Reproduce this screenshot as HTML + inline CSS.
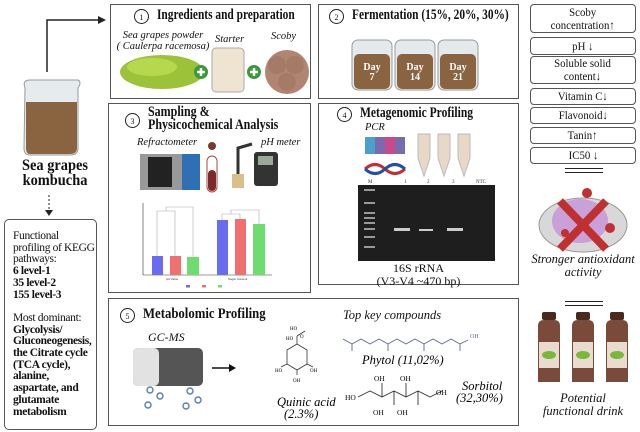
<!DOCTYPE html>
<html><head><meta charset="utf-8"><style>
body{margin:0;width:640px;height:432px;background:#fff;position:relative;overflow:hidden;font-family:"Liberation Serif",serif;color:#111}
.a{position:absolute}
.box{position:absolute;border:1.5px solid #555;box-sizing:border-box;background:#fff}
.rb{position:absolute;left:530px;width:106px;border:1.3px solid #555;border-radius:4px;box-sizing:border-box;text-align:center;font-size:12px;line-height:13px;display:flex;align-items:center;justify-content:center;white-space:nowrap}
.rb span{display:inline-block;transform:scaleX(.9)}
.t{font-weight:bold;font-size:15px;white-space:nowrap;transform-origin:left center}
.num{position:absolute;width:15px;height:15px;border:1.3px solid #222;border-radius:50%;font-size:8px;text-align:center;line-height:15px;box-sizing:border-box}
i{font-style:italic}
.dl{position:absolute;left:565px;width:38px;height:3px;border-top:1.5px solid #222;border-bottom:1.5px solid #222}
</style></head><body>

<!-- left column -->
<svg class="a" style="left:0;top:0" width="110" height="220">
<path d="M47 72 V20 H98" stroke="#222" stroke-width="1.5" fill="none"/>
<polygon points="98,16 106,20 98,24" fill="#222"/>
<path d="M25 88 Q22 80 30 80 H78 Q82 82 78 88 V148 Q78 155 70 155 H30 Q24 155 24 148 Z" fill="#e6ecee" stroke="#999"/>
<path d="M26 102 H77 V148 Q77 154 70 154 H30 Q26 154 26 148 Z" fill="#8a6340"/>
<line x1="49" y1="195" x2="49" y2="212" stroke="#222" stroke-dasharray="2,2"/>
<polygon points="45,210 49,216 53,210" fill="#222"/>
</svg>
<div class="a" style="left:0;width:110px;top:158px;text-align:center;font-size:16px;line-height:15px;font-weight:bold;transform:scaleX(.9);transform-origin:55px 0">Sea grapes<br>kombucha</div>
<div class="box" style="left:4px;top:219px;width:93px;height:211px;border-radius:5px;padding:11px 0 0 8px;font-size:11.5px;line-height:11.7px;letter-spacing:-0.35px">Functional profiling of KEGG pathways:<br><b>6 level-1<br>35 level-2<br>155 level-3</b><br><br>Most dominant:<br><b>Glycolysis/ Gluconeogenesis, the Citrate cycle (TCA cycle), alanine, aspartate, and glutamate metabolism</b></div>

<!-- box1 -->
<div class="box" style="left:110px;top:4px;width:201px;height:95px"></div>
<div class="num" style="left:134px;top:9px">1</div>
<div class="a t" style="left:157px;top:7px;transform:scaleX(.76)">Ingredients and preparation</div>
<div class="a" style="left:113px;top:30px;font-size:10.5px;line-height:11px;text-align:center;width:100px"><i>Sea grapes powder<br>( Caulerpa racemosa)</i></div>
<div class="a" style="left:215px;top:34px;font-size:10.5px"><i>Starter</i></div>
<div class="a" style="left:271px;top:31px;font-size:10.5px"><i>Scoby</i></div>
<svg class="a" style="left:112px;top:45px" width="198" height="50">
<ellipse cx="50" cy="27" rx="42" ry="17" fill="#9cc23a"/>
<ellipse cx="40" cy="22" rx="25" ry="9" fill="#b6d84e"/>
<circle cx="89" cy="27" r="7" fill="#3a9a3a"/><path d="M85 27h8M89 23v8" stroke="#fff" stroke-width="2.5"/>
<rect x="100" y="3" width="32" height="44" rx="4" fill="#efe3d2" stroke="#aaa"/>
<circle cx="142" cy="27" r="7" fill="#3a9a3a"/><path d="M138 27h8M142 23v8" stroke="#fff" stroke-width="2.5"/>
<circle cx="175" cy="27" r="22" fill="#b08672"/><circle cx="165" cy="20" r="9" fill="#a57b66"/><circle cx="183" cy="20" r="9" fill="#a57b66"/><circle cx="175" cy="37" r="9" fill="#a57b66"/>
</svg>

<!-- box2 -->
<div class="box" style="left:318px;top:4px;width:201px;height:95px"></div>
<div class="num" style="left:329px;top:9px">2</div>
<div class="a t" style="left:352px;top:7px;transform:scaleX(.76)">Fermentation (15%, 20%, 30%)</div>
<svg class="a" style="left:350px;top:38px" width="160" height="55">
<g><rect x="2" y="2" width="40" height="50" rx="6" fill="#e4eaec" stroke="#999"/><rect x="4" y="16" width="36" height="35" rx="5" fill="#8a6340"/></g>
<g transform="translate(43,0)"><rect x="2" y="2" width="40" height="50" rx="6" fill="#e4eaec" stroke="#999"/><rect x="4" y="16" width="36" height="35" rx="5" fill="#8a6340"/></g>
<g transform="translate(86,0)"><rect x="2" y="2" width="40" height="50" rx="6" fill="#e4eaec" stroke="#999"/><rect x="4" y="16" width="36" height="35" rx="5" fill="#8a6340"/></g>
<g fill="#fff" font-family="Liberation Serif" font-weight="bold" font-size="10" text-anchor="middle"><text x="22" y="32">Day</text><text x="22" y="42">7</text><text x="65" y="32">Day</text><text x="65" y="42">14</text><text x="108" y="32">Day</text><text x="108" y="42">21</text></g>
</svg>

<!-- box3 -->
<div class="box" style="left:108px;top:103px;width:203px;height:190px"></div>
<div class="num" style="left:125px;top:113px">3</div>
<div class="a t" style="left:148px;top:106px;line-height:13px;transform:scaleX(.8)">Sampling &amp;<br>Physicochemical Analysis</div>
<div class="a" style="left:137px;top:137px;font-size:10.5px"><i>Refractometer</i></div>
<div class="a" style="left:261px;top:137px;font-size:10.5px"><i>pH meter</i></div>
<svg class="a" style="left:0;top:0" width="320" height="300">
<rect x="140" y="154" width="60" height="36" fill="#999"/><rect x="148" y="157" width="24" height="30" fill="#222"/><rect x="182" y="154" width="18" height="36" fill="#2f6fb4"/>
<circle cx="212" cy="146" r="4" fill="#7a3a2a"/><rect x="207" y="156" width="10" height="36" rx="5" fill="#fff" stroke="#a44"/><rect x="208" y="170" width="8" height="21" rx="4" fill="#7a2a2a"/>
<path d="M238 180 V148 L252 144" stroke="#333" stroke-width="3" fill="none"/><rect x="254" y="152" width="24" height="34" rx="3" fill="#333"/><rect x="258" y="156" width="15" height="9" fill="#9a9"/><rect x="232" y="174" width="12" height="14" fill="#d9c08a"/>
<line x1="143" y1="203" x2="143" y2="275" stroke="#333" stroke-width=".6"/><line x1="143" y1="275" x2="272" y2="275" stroke="#333" stroke-width=".6"/>
<rect x="152" y="256" width="11" height="19" fill="#6b6bf0"/><rect x="170" y="256" width="11" height="19" fill="#f07070"/><rect x="187" y="257" width="12" height="18" fill="#6fdc6f"/>
<rect x="217" y="220" width="11" height="55" fill="#6b6bf0"/><rect x="235" y="219" width="11" height="56" fill="#f07070"/><rect x="253" y="224" width="12" height="51" fill="#6fdc6f"/>
<path d="M157 256V211H175V256M166 211V207H193V257M222 220V214H240V219M231 214V210H259V224" stroke="#aaa" stroke-width=".6" fill="none"/>
<g font-size="3" font-family="Liberation Sans" fill="#333"><text x="166" y="280">pH Value</text><text x="228" y="280">Sugar Content</text></g>
<rect x="186" y="285" width="4" height="2.5" fill="#6b6bf0"/><rect x="202" y="285" width="4" height="2.5" fill="#f07070"/><rect x="218" y="285" width="4" height="2.5" fill="#6fdc6f"/>
</svg>

<!-- box4 -->
<div class="box" style="left:318px;top:103px;width:201px;height:182px"></div>
<div class="num" style="left:337px;top:107px">4</div>
<div class="a t" style="left:360px;top:105px;transform:scaleX(.77)">Metagenomic Profiling</div>
<div class="a" style="left:365px;top:122px;font-size:10.5px"><i>PCR</i></div>
<svg class="a" style="left:0;top:0" width="520" height="290">
<rect x="365" y="137" width="40" height="17" fill="#7a6ab0"/><rect x="365" y="137" width="10" height="17" fill="#4aa0c8"/><rect x="385" y="137" width="10" height="17" fill="#c84a8a"/>
<path d="M365 169 Q375 160 385 169 T405 169" stroke="#c03030" stroke-width="3" fill="none"/><path d="M365 169 Q375 178 385 169 T405 169" stroke="#2050a0" stroke-width="3" fill="none"/>
<path d="M418 134h12v24l-6 18l-6-18z" fill="#e8d8c8" stroke="#bbb"/><path d="M438 134h12v24l-6 18l-6-18z" fill="#e8d8c8" stroke="#bbb"/><path d="M458 134h12v24l-6 18l-6-18z" fill="#e8d8c8" stroke="#bbb"/>
<rect x="358" y="185" width="137" height="76" fill="#1e1e1e"/>
<g fill="#999"><rect x="364" y="189" width="11" height="2"/><rect x="364" y="202" width="11" height="2"/><rect x="364" y="212" width="11" height="2"/><rect x="364" y="217" width="11" height="2"/><rect x="364" y="222" width="11" height="2"/><rect x="364" y="228" width="11" height="2"/><rect x="364" y="236" width="11" height="2"/><rect x="364" y="246" width="11" height="2"/></g>
<g fill="#ccc"><rect x="394" y="228" width="16" height="3"/><rect x="419" y="229" width="14" height="2"/><rect x="447" y="228" width="16" height="3"/></g>
<g font-size="5" font-family="Liberation Serif" fill="#333"><text x="368" y="183">M</text><text x="404" y="183">1</text><text x="427" y="183">2</text><text x="452" y="183">3</text><text x="476" y="183">NTC</text></g>
</svg>
<div class="a" style="left:318px;width:201px;top:262px;text-align:center;font-size:12px;line-height:13px">16S rRNA<br>(V3-V4 ~470 bp)</div>

<!-- box5 -->
<div class="box" style="left:108px;top:298px;width:411px;height:128px"></div>
<div class="num" style="left:120px;top:308px">5</div>
<div class="a t" style="left:143px;top:306px;transform:scaleX(.85)">Metabolomic Profiling</div>
<div class="a" style="left:148px;top:330px;font-size:12px"><i>GC-MS</i></div>
<div class="a" style="left:343px;top:308px;font-size:12.5px"><i>Top key compounds</i></div>
<svg class="a" style="left:0;top:0" width="520" height="432">
<rect x="133" y="348" width="70" height="38" rx="5" fill="#555"/><rect x="133" y="348" width="26" height="38" rx="5" fill="#e2e2e2"/>
<g stroke="#5a7fa8" fill="none" stroke-width="1.4"><circle cx="150" cy="390" r="3"/><circle cx="160" cy="396" r="3"/><circle cx="148" cy="405" r="3"/><circle cx="190" cy="391" r="3"/><circle cx="198" cy="400" r="3"/><circle cx="186" cy="406" r="3"/></g>
<path d="M212 368H229" stroke="#111" stroke-width="1.5"/><polygon points="229,364 236,368 229,372" fill="#111"/>
<g stroke="#333" stroke-width=".8" fill="none"><path d="M297 336V344L307 350V364L297 370L287 364V350L297 344M297 336l8-5M287 364l-6 3M307 364l6 3M297 370v5"/></g>
<g font-size="5" font-family="Liberation Serif"><text x="290" y="330">HO</text><text x="300" y="338">O</text><text x="286" y="340">HO</text><text x="275" y="372">HO</text><text x="310" y="372">OH</text><text x="293" y="382">OH</text></g>
<text x="277" y="406" font-size="12.5" font-style="italic" font-family="Liberation Serif">Quinic acid</text>
<text x="284" y="418" font-size="12.5" font-style="italic" font-family="Liberation Serif">(2.3%)</text>
<g stroke="#5a6a88" stroke-width=".9" fill="none"><path d="M343 339l9 5l9-5l9 5l9-5l9 5l9-5l9 5l9-5l9 5l9-5l9 5l9-5l9 5l8-4M352 344v7M388 344v7M424 344v7M460 344v7"/></g>
<text x="470" y="338" font-size="6" font-family="Liberation Serif" fill="#5a6a88">OH</text>
<text x="362" y="364" font-size="12.5" font-style="italic" font-family="Liberation Serif">Phytol (11,02%)</text>
<g stroke="#333" stroke-width=".9" fill="none"><path d="M358 397l12-6l12 6l12-6l12 6l12-6l12 6l12-6M382 397v-14M394 391v14M406 397v-14M418 391v14"/></g>
<g font-size="7.5" font-family="Liberation Serif"><text x="345" y="400">HO</text><text x="374" y="381">OH</text><text x="400" y="381">OH</text><text x="436" y="395">OH</text><text x="373" y="415">OH</text><text x="397" y="415">OH</text></g>
<text x="462" y="390" font-size="12.5" font-style="italic" font-family="Liberation Serif">Sorbitol</text>
<text x="456" y="402" font-size="12.5" font-style="italic" font-family="Liberation Serif">(32,30%)</text>
</svg>

<!-- right column -->
<div class="rb" style="top:4px;height:29px"><span>Scoby<br>concentration↑</span></div>
<div class="rb" style="top:37px;height:18px"><span>pH ↓</span></div>
<div class="rb" style="top:56px;height:28px"><span>Soluble solid<br>content↓</span></div>
<div class="rb" style="top:88px;height:17px"><span>Vitamin C↓</span></div>
<div class="rb" style="top:107px;height:17px"><span>Flavonoid↓</span></div>
<div class="rb" style="top:127px;height:17px"><span>Tanin↑</span></div>
<div class="rb" style="top:147px;height:17px"><span>IC50 ↓</span></div>
<div class="dl" style="top:168px"></div>
<svg class="a" style="left:530px;top:183px" width="106" height="70">
<ellipse cx="53" cy="42" rx="44" ry="27" fill="#d8d8d8" stroke="#999"/><ellipse cx="50" cy="38" rx="28" ry="22" fill="#c9a0d8"/>
<path d="M30 18L76 66M76 18L30 66" stroke="#c03030" stroke-width="8"/>
<circle cx="57" cy="10" r="5" fill="#c03030"/><circle cx="80" cy="45" r="5" fill="#c03030"/><circle cx="35" cy="50" r="4" fill="#c03030"/>
</svg>
<div class="a" style="left:526px;width:114px;top:253px;text-align:center;font-size:12.5px;line-height:13px"><i>Stronger antioxidant<br>activity</i></div>
<div class="dl" style="top:301px"></div>
<svg class="a" style="left:530px;top:312px" width="106" height="72">
<g id="b"><rect x="12" y="0" width="14" height="8" rx="2" fill="#4a2a1e"/><path d="M8 14Q8 8 14 8H24Q30 8 30 14V70H8Z" fill="#7a4a3a"/><rect x="9" y="30" width="20" height="26" fill="#e8dcd0"/><ellipse cx="19" cy="43" rx="7" ry="4" fill="#7ab83a"/></g>
<use href="#b" x="34"/><use href="#b" x="68"/>
</svg>
<div class="a" style="left:526px;width:114px;top:392px;text-align:center;font-size:12.5px;line-height:13px"><i>Potential<br>functional drink</i></div>
</body></html>
